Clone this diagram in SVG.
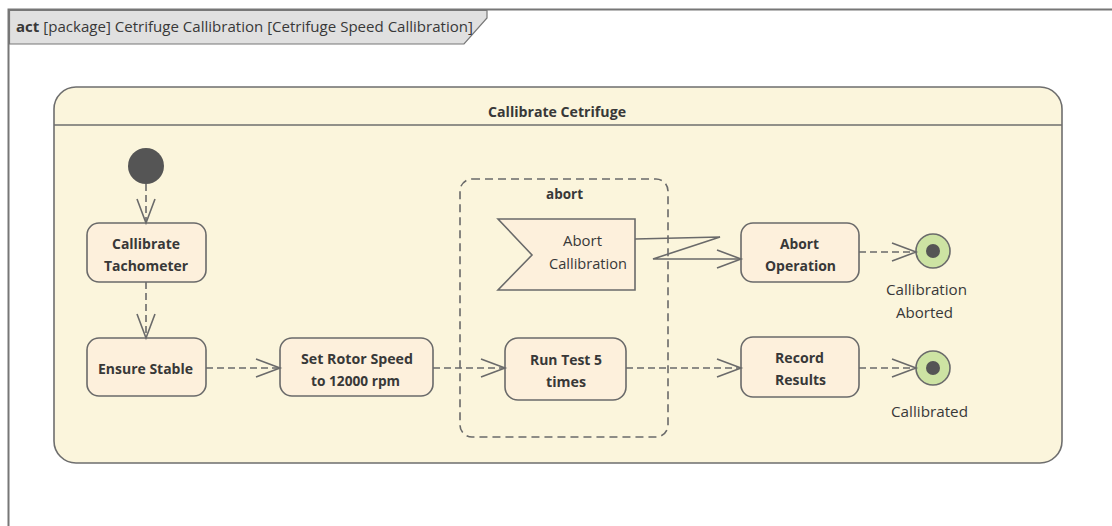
<svg xmlns="http://www.w3.org/2000/svg" width="1112" height="526" viewBox="0 0 1112 526">
<style>
text{font-family:"Open Sans","Liberation Sans",sans-serif;font-size:14px;fill:#383838;text-anchor:middle}
.b{font-weight:bold}
.node{fill:#fdf0dc;stroke:#6a6a6a;stroke-width:1.6}
.edge{fill:none;stroke:#6a6a6a;stroke-width:1.6;stroke-dasharray:7 4}
.solid{fill:none;stroke:#6a6a6a;stroke-width:1.6}
</style>
<defs>
<marker id="v" markerUnits="userSpaceOnUse" markerWidth="26" markerHeight="20" refX="24" refY="9" orient="auto" overflow="visible">
<path d="M0,0 L24,9 L0,18" fill="none" stroke="#6a6a6a" stroke-width="1.6"/>
</marker>
</defs>
<rect width="1112" height="526" fill="#ffffff"/>
<g id="frame">
<path d="M8.5,526 V9.5 H1112" fill="none" stroke="#777" stroke-width="2"/>
<polygon points="9.5,10.5 487,10.5 487,18 464,44 9.5,44" fill="#e0e0e0" stroke="#777" stroke-width="1.2"/>
<text x="16" y="31.5" style="text-anchor:start;font-size:14px" textLength="457" lengthAdjust="spacingAndGlyphs"><tspan class="b">act</tspan> [package] Cetrifuge Callibration [Cetrifuge Speed Callibration]</text>
</g>
<g id="container">
<rect x="54" y="87" width="1008" height="376" rx="22" fill="#fbf5dc" stroke="#6e6e6e" stroke-width="1.6"/>
<line x1="54" y1="125" x2="1062" y2="125" stroke="#6e6e6e" stroke-width="1.6"/>
<text class="b" x="557" y="117" textLength="138" lengthAdjust="spacingAndGlyphs">Callibrate Cetrifuge</text>
</g>
<g id="abort-region">
<rect x="460" y="179" width="208" height="258" rx="12" fill="none" stroke="#6a6a6a" stroke-width="1.6" stroke-dasharray="8 5"/>
<text class="b" x="564.5" y="199" textLength="37" lengthAdjust="spacingAndGlyphs">abort</text>
</g>
<g id="initial"><circle cx="146" cy="166" r="18" fill="#555"/></g>
<g id="tachometer">
<rect class="node" x="87" y="223" width="119" height="59" rx="12"/>
<text class="b" x="146" y="249" textLength="68" lengthAdjust="spacingAndGlyphs">Callibrate</text>
<text class="b" x="146" y="271" textLength="84" lengthAdjust="spacingAndGlyphs">Tachometer</text>
</g>
<g id="ensure-stable">
<rect class="node" x="87" y="338" width="119" height="58" rx="12"/>
<text class="b" x="145.5" y="374" textLength="95" lengthAdjust="spacingAndGlyphs">Ensure Stable</text>
</g>
<g id="set-rotor">
<rect class="node" x="280" y="338" width="153" height="58" rx="12"/>
<text class="b" x="357" y="364" textLength="112" lengthAdjust="spacingAndGlyphs">Set Rotor Speed</text>
<text class="b" x="355.5" y="386" textLength="89" lengthAdjust="spacingAndGlyphs">to 12000 rpm</text>
</g>
<g id="run-test">
<rect class="node" x="505" y="338" width="121" height="62" rx="13"/>
<text class="b" x="566" y="365" textLength="72" lengthAdjust="spacingAndGlyphs">Run Test 5</text>
<text class="b" x="566" y="387" textLength="40" lengthAdjust="spacingAndGlyphs">times</text>
</g>
<g id="abort-callibration">
<polygon class="node" points="498,219 635,219 635,290 498,290 532,255"/>
<text x="582.5" y="246" textLength="39" lengthAdjust="spacingAndGlyphs">Abort</text>
<text x="588" y="269" textLength="78" lengthAdjust="spacingAndGlyphs">Callibration</text>
</g>
<g id="abort-operation">
<rect class="node" x="741" y="223" width="118" height="59" rx="12"/>
<text class="b" x="799.5" y="249" textLength="39" lengthAdjust="spacingAndGlyphs">Abort</text>
<text class="b" x="800.5" y="271" textLength="71" lengthAdjust="spacingAndGlyphs">Operation</text>
</g>
<g id="record-results">
<rect class="node" x="741" y="337" width="118" height="60" rx="12"/>
<text class="b" x="799.5" y="363" textLength="49" lengthAdjust="spacingAndGlyphs">Record</text>
<text class="b" x="800.5" y="385" textLength="51" lengthAdjust="spacingAndGlyphs">Results</text>
</g>
<g id="final-aborted">
<circle cx="933" cy="251" r="17" fill="#cde3a3" stroke="#6a6a6a" stroke-width="1.6"/>
<circle cx="933" cy="251" r="7" fill="#555"/>
<text x="926.5" y="295" textLength="81" lengthAdjust="spacingAndGlyphs">Callibration</text>
<text x="924.5" y="318" textLength="57" lengthAdjust="spacingAndGlyphs">Aborted</text>
</g>
<g id="final-callibrated">
<circle cx="933" cy="368" r="17" fill="#cde3a3" stroke="#6a6a6a" stroke-width="1.6"/>
<circle cx="933" cy="368" r="7" fill="#555"/>
<text x="929.5" y="417" textLength="77" lengthAdjust="spacingAndGlyphs">Callibrated</text>
</g>
<g id="connectors">
<path class="edge" d="M146,184 V223" marker-end="url(#v)"/>
<path class="edge" d="M146,282 V338" marker-end="url(#v)"/>
<path class="edge" d="M206,368 H280" marker-end="url(#v)"/>
<path class="edge" d="M433,368 H505" marker-end="url(#v)"/>
<path class="edge" d="M626,368 H741" marker-end="url(#v)"/>
<path class="edge" d="M859,368 H916" marker-end="url(#v)"/>
<path class="edge" d="M859,252 H916" marker-end="url(#v)"/>
<path class="solid" d="M635,239 L720,237 L653,259 L741,259" marker-end="url(#v)"/>
</g>
</svg>
